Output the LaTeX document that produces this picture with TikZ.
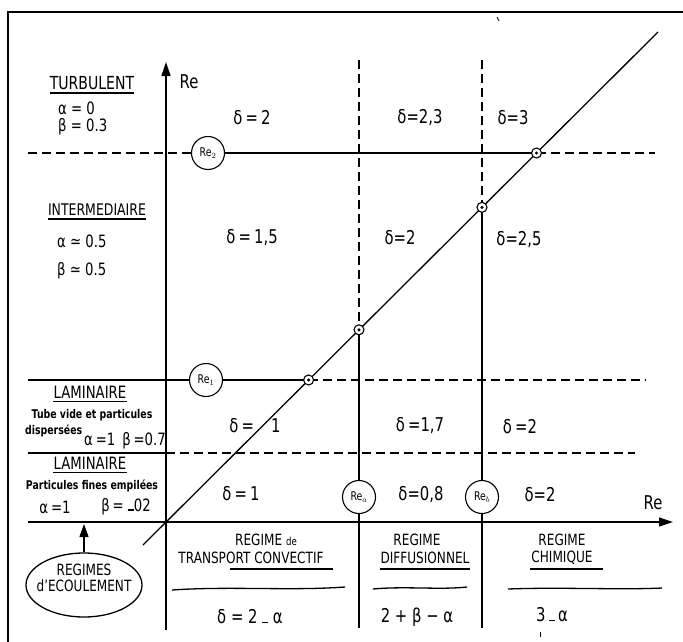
\documentclass[tikz,border=0pt]{standalone}
\usepackage{fontspec}
\setmainfont{DejaVu Sans}[FakeStretch=0.78]
\usetikzlibrary{arrows.meta,shapes.geometric}
\newcommand{\lowdash}{\raisebox{1pt}{\rule{6pt}{1.4pt}}}
\begin{document}
\begin{tikzpicture}[x=1pt,y=-1pt,
  ln/.style={line width=1.3pt},
  dsh/.style={line width=1.1pt, dash pattern=on 9pt off 5pt},
  recirc/.style={circle, draw, line width=1.1pt, minimum size=33pt, inner sep=0pt, fill=white, font=\fontsize{12}{14}\selectfont},
  ptc/.style={circle, draw, line width=1.1pt, minimum size=10pt, inner sep=0pt, fill=white},
  txt/.style={inner sep=0pt, font=\fontsize{19}{21}\selectfont},
  big/.style={inner sep=0pt, font=\fontsize{17}{19}\selectfont},
  reg/.style={inner sep=0pt, font=\fontsize{15.5}{17}\selectfont},
  small/.style={inner sep=0pt, font=\fontsize{12}{14}\selectfont\bfseries},
  arr/.style={-{Triangle[length=14pt,width=9pt]}}
]
\useasboundingbox (0,0) rectangle (683,641);
% frame
\draw[ln] (8,660) -- (8,12) -- (700,12);
% named coordinates
\coordinate (dA) at (143,545);
\coordinate (dB) at (658,32);
\coordinate (O) at (166,522);
\coordinate (vtop) at (166,62);
\coordinate (vbot) at (166,630);
\coordinate (htip) at (673,522);
\coordinate (hleft) at (28,522);
\coordinate (l2a) at (28,153);
\coordinate (l2b) at (655,153);
\coordinate (l1a) at (28,380);
\coordinate (l1b) at (645,380);
\coordinate (l3a) at (28,453);
\coordinate (l3m) at (166,453);
\coordinate (l3b) at (635,453);
\coordinate (vat) at (359,60);
\coordinate (vab) at (359,628);
\coordinate (vbt) at (482,60);
\coordinate (vbb) at (482,628);
% axes
\draw[ln,arr] (vbot) -- (vtop);
\draw[ln,arr] (hleft) -- (htip);
% diagonal
\draw[ln] (dA) -- (dB);
% circles
\node[recirc] (re2) at (208,153) {Re$_2$};
\node[recirc] (re1) at (206,380) {Re$_1$};
\node[recirc] (rea) at (359,497) {Re$_a$};
\node[recirc] (reb) at (482,497) {Re$_b$};
% horizontal lines
\draw[dsh] (l2a) -- (re2.west);
\draw[ln] (re2.east) -- (536.5,153) coordinate (p2);
\draw[dsh] (p2) -- (l2b);
\draw[ln] (l1a) -- (re1.west);
\draw[ln] (re1.east) -- (308.6,380) coordinate (p1);
\draw[dsh] (p1) -- (l1b);
\draw[ln] (l3a) -- (l3m);
\draw[dsh] (l3m) -- (l3b);
% vertical lines
\coordinate (pa) at (359,329.8);
\coordinate (pb) at (482,207.3);
\draw[dsh] (vat) -- (pa);
\draw[ln] (pa) -- (rea.north);
\draw[ln] (rea.south) -- (vab);
\draw[dsh] (vbt) -- (pb);
\draw[ln] (pb) -- (reb.north);
\draw[ln] (reb.south) -- (vbb);
% intersection marks
\foreach \p in {p2,p1,pa,pb}{
  \node[ptc] (m\p) at (\p) {};
  \fill (\p) circle (1.7pt);
}
% axis labels
\node[txt] (reV) at (189,82) {Re};
\node[txt] (reH) at (653,503) {Re};
% delta labels
\node[txt] at (252,118) {δ\,=\,2};
\node[txt] at (420,118) {δ=2,3};
\node[txt] at (513,118) {δ=3};
\node[txt] at (252,238) {δ\,=\,1,5};
\node[txt] at (400,238) {δ=2};
\node[txt] at (519,240) {δ=2,5};
\node[txt] at (255,426) {δ\,=\hspace{17pt}1};
\node[txt] at (420,426) {δ\,=1,7};
\node[txt] at (520,427) {δ\,=2};
\node[txt] at (241,494) {δ\,=\,1};
\node[txt] at (421,495) {δ=0,8};
\node[txt] at (540,495) {δ=2};
% left column
\node[inner sep=0pt, font=\fontsize{18}{20}\selectfont] (turb) at (92,83) {TURBULENT};
\draw[ln] ([yshift=-3pt]turb.south west) -- ([yshift=-3pt]turb.south east);
\node[big, anchor=west] at (58,108) {α = 0};
\node[big, anchor=west] at (58,127) {β = 0.3};
\node[inner sep=0pt, font=\fontsize{16}{18}\selectfont] (inter) at (97,210) {INTERMEDIAIRE};
\draw[ln] ([yshift=-3pt]inter.south west) -- ([yshift=-3pt]inter.south east);
\node[big, anchor=west] at (57,241) {α ≃ 0.5};
\node[big, anchor=west] at (57,271) {β ≃ 0.5};
\node[inner sep=0pt, font=\fontsize{17}{19}\selectfont] (lam1) at (90,392) {LAMINAIRE};
\draw[ln] ([yshift=-3pt]lam1.south west) -- ([yshift=-3pt]lam1.south east);
\node[small] at (92,415) {Tube vide et particules};
\node[small, anchor=west] at (25,431) {dispersées};
\node[big, anchor=west] at (84,441) {α\,=1\hspace{7pt}β\,=0.7};
\node[inner sep=0pt, font=\fontsize{17}{19}\selectfont] (lam2) at (90,463) {LAMINAIRE};
\draw[ln] ([yshift=-3pt]lam2.south west) -- ([yshift=-3pt]lam2.south east);
\node[small] at (92,486) {Particules fines empilées};
\node[big] at (55,507) {α\,=1};
\node[big] at (126,507) {β\,= \lowdash 02};
% ellipse
\node[ellipse, draw, ln, minimum width=116pt, minimum height=64pt, inner sep=0pt] (ell) at (84,585) {};
\node[reg, align=center] (elltxt) at (84,578) {REGIMES\\[-1pt]d'ECOULEMENT};
\coordinate (ellarr) at (84,524);
\draw[ln,-{Triangle[length=13pt,width=9pt]}] (ell.north) -- (ellarr);
% regimes
\node[reg] at (266,540) {REGIME {\fontsize{11}{12}\selectfont de}};
\node[reg] at (251,558) {TRANSPORT CONVECTIF};
\node[reg] at (417,540) {REGIME};
\node[reg] at (425,558) {DIFFUSIONNEL};
\node[reg] at (562,540) {REGIME};
\node[reg] at (562,558) {CHIMIQUE};
\draw[ln] (230,569) -- (333,569);
\draw[ln] (380,569) -- (470,569);
\draw[ln] (530,569) -- (603,569);
\draw[ln] (172,590) .. controls (230,586) and (290,591) .. (345,587);
\draw[ln] (373,589) .. controls (405,586) and (440,590) .. (467,587);
\draw[ln] (508,589) .. controls (560,587) and (620,590) .. (662,588);
\node[txt] at (250,617) {δ = 2 \lowdash\ α};
\node[txt] at (417,617) {2 + β − α};
\node[txt] at (552,615) {3\,\lowdash\,α};
\draw[line width=1pt] (540,632) -- (540,637);
\draw[line width=0.8pt] (497,17) -- (499,21);
\end{tikzpicture}
\end{document}
